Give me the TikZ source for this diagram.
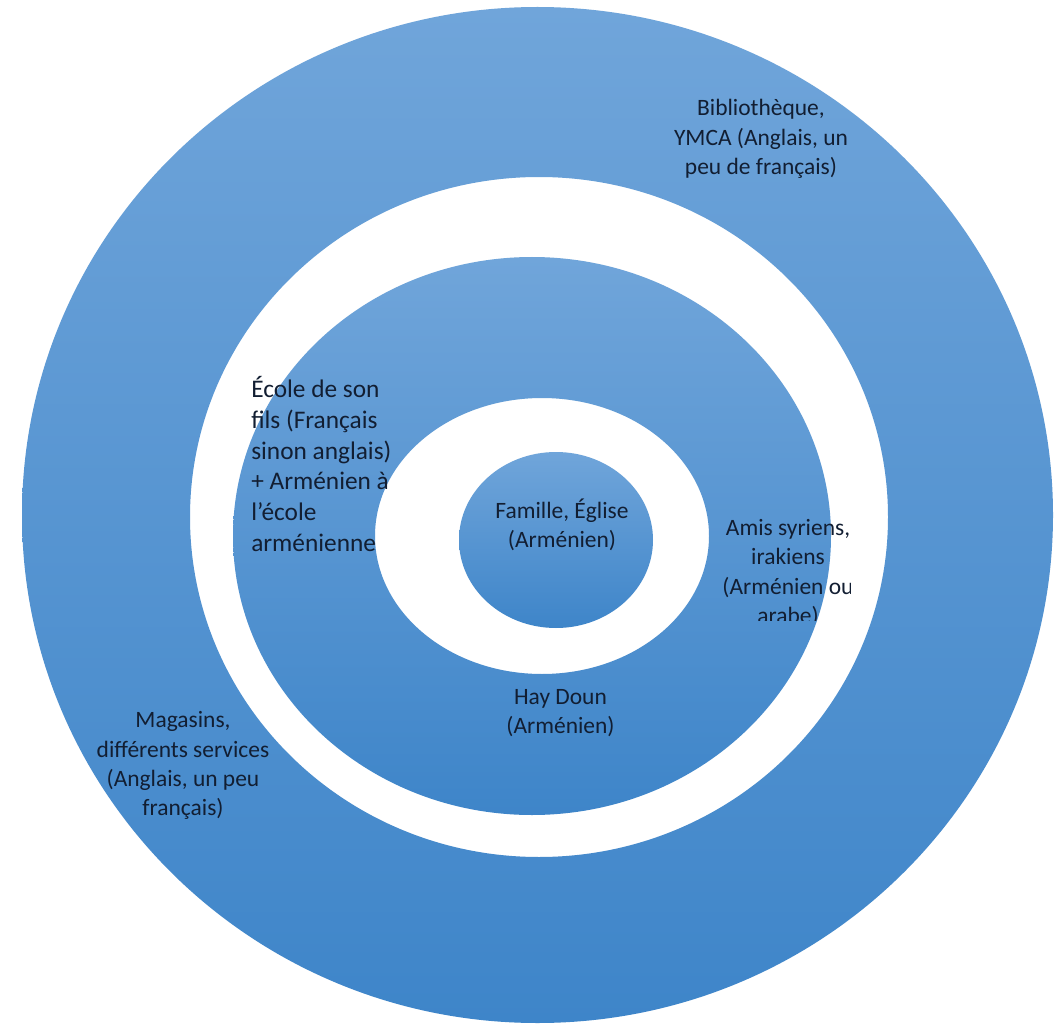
\documentclass[tikz,border=0pt]{standalone}
\usepackage{fontspec}
\setmainfont{Carlito}
\definecolor{ringtop}{RGB}{112,165,218}
\definecolor{ringbottom}{RGB}{62,133,201}
\definecolor{labeltext}{RGB}{18,30,50}
\begin{document}
\begin{tikzpicture}[x=0.75pt,y=-0.75pt,
  ringfill/.style={even odd rule, top color=ringtop, bottom color=ringbottom, draw=none},
  lbl/.style={text=labeltext, font=\fontsize{17.6pt}{21.9pt}\selectfont, align=center, inner sep=0pt},
  biglbl/.style={text=labeltext, font=\fontsize{19pt}{23.2pt}\selectfont, align=left, inner sep=0pt},
]
\useasboundingbox (0,0) rectangle (1061,1027);
\fill[white] (0,0) rectangle (1061,1027);

% outer band, middle band and the core disc
\shade[ringfill] (537.5,515) ellipse [x radius=515.5, y radius=508]
                 (539,517) ellipse [x radius=349, y radius=340];
\shade[ringfill] (532,536) ellipse [x radius=299, y radius=279]
                 (542,536) ellipse [x radius=167, y radius=138];
\shade[ringfill] (556,540) ellipse [x radius=97, y radius=88];

% labels
\node[lbl] (biblio) at (761,139) {Bibliothèque,\\YMCA (Anglais, un\\peu de français)};
\node[biglbl, anchor=west] (ecole) at (251,464) {École de son\\fils (Français\\sinon anglais)\\+ Arménien à\\l’école\\arménienne};
\node[lbl] (famille) at (562,524.5) {Famille, Église\\(Arménien)};
% this text box is narrower and shorter than its text, which is cut off
\begin{scope}
  \clip (700,500) rectangle (850,620);
  \node[lbl] (amis) at (788,573) {Amis syriens,\\irakiens\\(Arménien ou\\arabe)};
\end{scope}
\node[lbl] (haydoun) at (560.5,713) {Hay Doun\\(Arménien)};
\node[lbl] (magasins) at (183,765.5) {Magasins,\\différents services\\(Anglais, un peu\\français)};
\end{tikzpicture}
\end{document}
